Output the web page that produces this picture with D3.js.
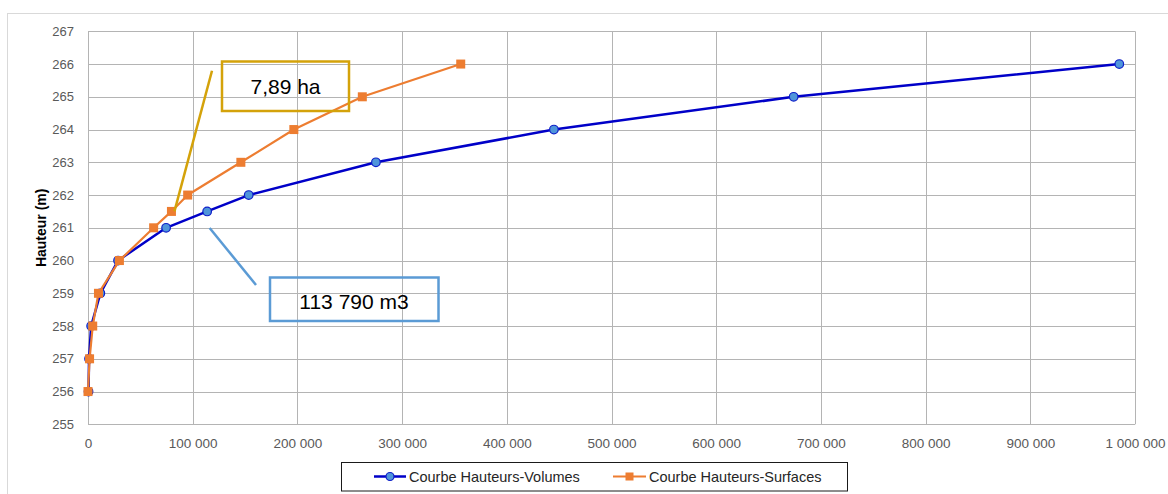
<!DOCTYPE html>
<html><head><meta charset="utf-8">
<script src="https://cdn.jsdelivr.net/npm/d3@7"></script>
<style>
body{margin:0;background:#fff;}
svg{display:block;}
</style></head>
<body>
<svg id="c" width="1168" height="494"></svg>
<script>
const heights = [256, 257, 258, 259, 260, 261, 261.5, 262, 263, 264, 265, 266];
const volumes = [500, 1000, 3000, 11800, 28700, 74600, 113790, 153500, 275000, 445000, 674000, 985000];
const surfaces = [0, 1500, 4500, 10000, 30000, 62700, 79700, 95200, 146000, 196600, 262000, 356000];
const xTicks = [0,100000,200000,300000,400000,500000,600000,700000,800000,900000,1000000];
const yTicks = [255,256,257,258,259,260,261,262,263,264,265,266,267];
const seriesNames = ["Courbe Hauteurs-Volumes", "Courbe Hauteurs-Surfaces"];
const annotations = [
  {text:"7,89 ha", series:1, index:6},
  {text:"113 790 m3", series:0, index:6}
];

const svg = d3.select("#c");
const font = "'Liberation Sans', Arial, sans-serif";

// outer chart border
svg.append("rect").attr("x",7.5).attr("y",13.5).attr("width",1180).attr("height",500)
  .attr("fill","#fff").attr("stroke","#d9d9d9").attr("stroke-width",1);

const L = 88, R = 1135, T = 31.3, B = 424.3;
const x = d3.scaleLinear().domain([0,1000000]).range([L,R]);
const y = d3.scaleLinear().domain([255,267]).range([B,T]);

const fmt = v => d3.format(",")(v).replace(/,/g," ");

// grid
const g = svg.append("g");
g.selectAll("line.h").data(yTicks).join("line")
  .attr("x1",L).attr("x2",R).attr("y1",d=>Math.round(y(d))+0.5).attr("y2",d=>Math.round(y(d))+0.5)
  .attr("stroke","#b4b4b4").attr("stroke-width",1);
g.selectAll("line.v").data(xTicks).join("line")
  .attr("y1",T).attr("y2",B).attr("x1",d=>Math.round(x(d))+0.5).attr("x2",d=>Math.round(x(d))+0.5)
  .attr("stroke","#b4b4b4").attr("stroke-width",1);

// axes labels via d3 axes
const yAxis = d3.axisLeft(y).tickValues(yTicks).tickSize(0).tickPadding(14).tickFormat(d3.format("d"));
const ya = svg.append("g").attr("transform",`translate(${L},0)`).call(yAxis);
ya.select(".domain").remove();
ya.selectAll("text").attr("font-family",font).attr("font-size",13).attr("fill","#595959");

const xAxis = d3.axisBottom(x).tickValues(xTicks).tickSize(0).tickPadding(14).tickFormat(fmt);
const xa = svg.append("g").attr("transform",`translate(0,${B})`).call(xAxis);
xa.select(".domain").remove();
xa.selectAll("text").attr("font-family",font).attr("font-size",13.5).attr("fill","#595959");

// y title
svg.append("text").attr("transform",`translate(45.5,${(T+B)/2}) rotate(-90)`)
  .attr("text-anchor","middle").attr("font-family",font).attr("font-size",14)
  .attr("font-weight","bold").attr("fill","#000").text("Hauteur (m)");

const line = d3.line();
const volPts = heights.map((h,i)=>[x(volumes[i]), y(h)]);
const surPts = heights.map((h,i)=>[x(surfaces[i]), y(h)]);

// blue series
svg.append("path").attr("d",line(volPts)).attr("fill","none").attr("stroke","#0000c8").attr("stroke-width",2.5).attr("stroke-linejoin","round");
svg.selectAll("circle.v").data(volPts).join("circle")
  .attr("cx",d=>d[0]).attr("cy",d=>d[1]).attr("r",4.3)
  .attr("fill","#4f95da").attr("stroke","#0d1fc8").attr("stroke-width",1.2);

// orange series
svg.append("path").attr("d",line(surPts)).attr("fill","none").attr("stroke","#ed7d31").attr("stroke-width",2.2).attr("stroke-linejoin","round");
svg.selectAll("rect.s").data(surPts).join("rect")
  .attr("x",d=>d[0]-4.5).attr("y",d=>d[1]-4.5).attr("width",9).attr("height",9)
  .attr("fill","#ed7d31");

// annotations
const a0 = annotations[0];
const p0 = surPts[a0.index];
svg.append("line").attr("x1",p0[0]+3).attr("y1",p0[1]).attr("x2",212).attr("y2",70.7)
  .attr("stroke","#d4a20a").attr("stroke-width",2.5);
svg.append("rect").attr("x",222).attr("y",61.5).attr("width",127).attr("height",49.5)
  .attr("fill","none").attr("stroke","#d4a20a").attr("stroke-width",2.5);
svg.append("text").attr("x",285.5).attr("y",93.5).attr("text-anchor","middle")
  .attr("font-family",font).attr("font-size",21).attr("fill","#000").text(a0.text);

const a1 = annotations[1];
const p1 = volPts[a1.index];
svg.append("line").attr("x1",p1[0]+2.5).attr("y1",p1[1]+16.5).attr("x2",256).attr("y2",285)
  .attr("stroke","#5b9bd5").attr("stroke-width",2.5);
svg.append("rect").attr("x",270).attr("y",277.5).attr("width",168.5).attr("height",43.5)
  .attr("fill","none").attr("stroke","#5b9bd5").attr("stroke-width",2.5);
svg.append("text").attr("x",354).attr("y",309).attr("text-anchor","middle")
  .attr("font-family",font).attr("font-size",21).attr("fill","#000").text(a1.text);

// legend
svg.append("rect").attr("x",341.5).attr("y",462.5).attr("width",506).attr("height",28.5)
  .attr("fill","#fff").attr("stroke","#1a1a1a").attr("stroke-width",1);
const lg = svg.append("g");
// blue
lg.append("line").attr("x1",374).attr("x2",406).attr("y1",476.5).attr("y2",476.5).attr("stroke","#0000c8").attr("stroke-width",2.5);
lg.append("circle").attr("cx",390).attr("cy",476.5).attr("r",4).attr("fill","#4f95da").attr("stroke","#0d1fc8").attr("stroke-width",1.2);
lg.append("text").attr("x",409).attr("y",482).attr("font-family",font).attr("font-size",14.5).attr("fill","#262626").text(seriesNames[0]);
// orange
lg.append("line").attr("x1",613).attr("x2",646).attr("y1",476.5).attr("y2",476.5).attr("stroke","#ed7d31").attr("stroke-width",2.2);
lg.append("rect").attr("x",625.5).attr("y",472.5).attr("width",8).attr("height",8).attr("fill","#ed7d31");
lg.append("text").attr("x",649).attr("y",482).attr("font-family",font).attr("font-size",14.5).attr("fill","#262626").text(seriesNames[1]);
</script>
</body></html>
